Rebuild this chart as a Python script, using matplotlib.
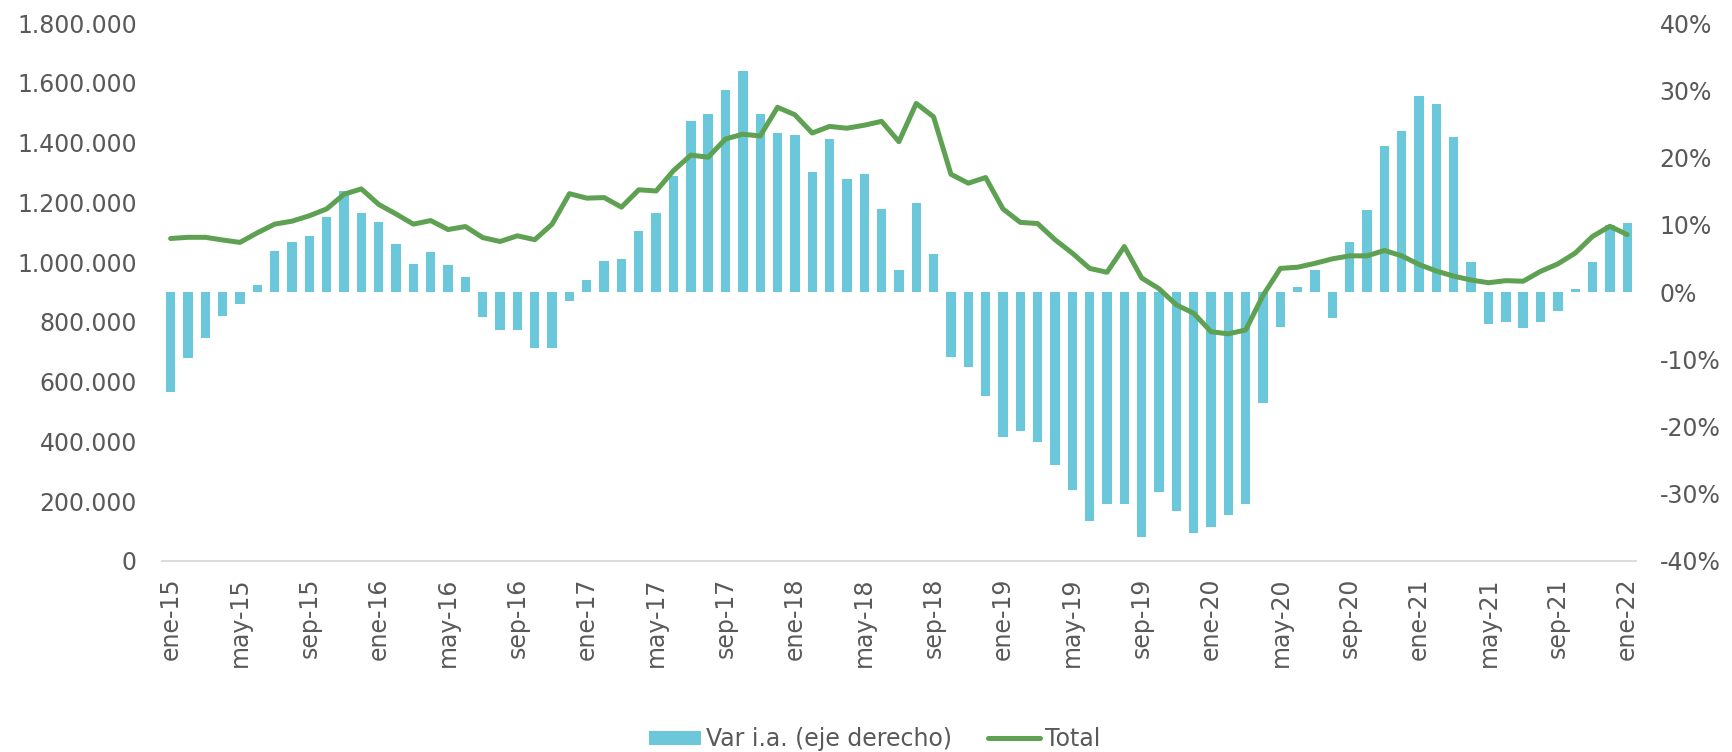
import numpy as np
import matplotlib
matplotlib.use('Agg')
import matplotlib.pyplot as plt
from matplotlib.ticker import FuncFormatter

# monthly data, ene-15 .. ene-22
meses = ['ene', 'feb', 'mar', 'abr', 'may', 'jun', 'jul', 'ago', 'sep', 'oct', 'nov', 'dic']
labels = [f'{m}-{y % 100:02d}' for y in range(2015, 2023) for m in meses][:85]

var_ia = [-14.8, -9.8, -6.8, -3.5, -1.8, 1.0, 6.1, 7.5, 8.4, 11.1, 15.0, 11.7,
          10.4, 7.2, 4.2, 6.0, 4.0, 2.2, -3.7, -5.6, -5.6, -8.4, -8.4, -1.3,
          1.8, 4.6, 4.9, 9.0, 11.8, 17.2, 25.4, 26.4, 30.1, 32.8, 26.5, 23.6,
          23.4, 17.8, 22.8, 16.8, 17.6, 12.4, 3.2, 13.3, 5.7, -9.6, -11.2, -15.5,
          -21.5, -20.7, -22.3, -25.7, -29.4, -34.1, -31.5, -31.5, -36.5, -29.7, -32.5, -35.8,
          -34.9, -33.2, -31.5, -16.5, -5.2, 0.7, 3.2, -3.9, 7.4, 12.2, 21.7, 23.9,
          29.2, 28.0, 23.0, 4.5, -4.7, -4.4, -5.3, -4.4, -2.8, 0.5, 4.5, 9.9,
          10.3]

total = [1079000, 1083000, 1083000, 1074000, 1066000, 1098000, 1127000, 1137000, 1155000, 1178000, 1227000, 1245000,
         1193000, 1161000, 1127000, 1139000, 1109000, 1119000, 1082000, 1069000, 1088000, 1075000, 1127000, 1229000,
         1214000, 1216000, 1184000, 1242000, 1238000, 1306000, 1358000, 1351000, 1412000, 1428000, 1422000, 1518000,
         1493000, 1432000, 1454000, 1448000, 1458000, 1471000, 1403000, 1531000, 1486000, 1294000, 1264000, 1283000,
         1178000, 1133000, 1129000, 1075000, 1030000, 979000, 966000, 1052000, 947000, 911000, 857000, 829000,
         767000, 760000, 773000, 889000, 979000, 983000, 996000, 1011000, 1021000, 1021000, 1039000, 1021000,
         992000, 970000, 953000, 940000, 931000, 938000, 936000, 969000, 994000, 1030000, 1086000, 1120000,
         1092000]

x = np.arange(len(labels))
gray = '#595959'
fs = 17

fig = plt.figure(figsize=(17.32, 7.52), dpi=100)
ax = fig.add_axes([0.0935, 0.254, 0.8510, 0.7154])
ax2 = ax.twinx()

bars = ax2.bar(x, var_ia, width=0.54, color='#6BC8DA', label='Var i.a. (eje derecho)')
line, = ax.plot(x, total, color='#5EA152', lw=3.6, solid_capstyle='round',
                solid_joinstyle='round', label='Total')

# line on top of the bars
ax.set_zorder(ax2.get_zorder() + 1)
ax.patch.set_visible(False)

ax.set_xlim(-0.5, len(x) - 0.5)
ax.set_ylim(0, 1800000)
ax.set_yticks(np.arange(0, 1800001, 200000))
ax.yaxis.set_major_formatter(FuncFormatter(lambda v, p: f'{int(v):,}'.replace(',', '.')))
ax2.set_ylim(-40, 40)
ax2.set_yticks(np.arange(-40, 41, 10))
ax2.yaxis.set_major_formatter(FuncFormatter(lambda v, p: f'{int(v)}%'))

ax.set_xticks(x[::4])
ax.set_xticklabels(labels[::4], rotation=90)

for a in (ax, ax2):
    for s in a.spines.values():
        s.set_visible(False)
    a.tick_params(length=0, labelsize=fs, colors=gray)
ax.spines['bottom'].set_visible(True)
ax.spines['bottom'].set_color('#D9D9D9')
ax.spines['bottom'].set_linewidth(1.3)
ax.tick_params(axis='y', pad=18)
ax2.tick_params(axis='y', pad=17)
ax.tick_params(axis='x', pad=12)

fig.legend([bars, line], ['Var i.a. (eje derecho)', 'Total'], loc='center',
           bbox_to_anchor=(0.505, 0.017), ncol=2, frameon=False, fontsize=fs,
           labelcolor=gray, handlelength=2.2, handletextpad=0.2, columnspacing=1.55,
           handleheight=0.55)

fig.savefig('out.png', dpi=100)
